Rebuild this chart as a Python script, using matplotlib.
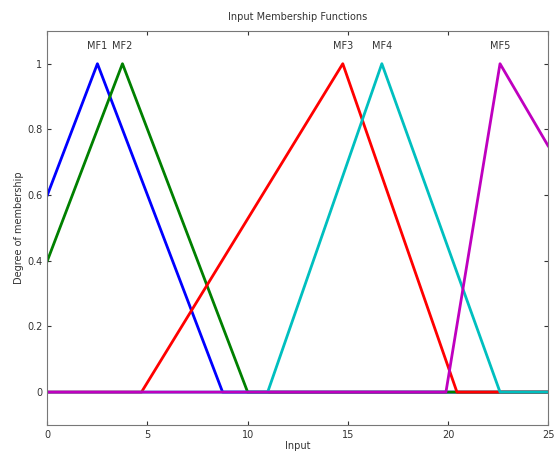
import numpy as np
import matplotlib
matplotlib.use("Agg")
import matplotlib.pyplot as plt

# triangular membership functions [left foot, peak, right foot]
mf_names = ["MF1", "MF2", "MF3", "MF4", "MF5"]
mf_params = [
    [-3.75, 2.5, 8.75],
    [-2.5, 3.75, 10.0],
    [4.7, 14.75, 20.45],
    [11.0, 16.7, 22.6],
    [19.9, 22.6, 32.2],
]
mf_colors = ["#0000ff", "#008000", "#ff0000", "#00bfbf", "#bf00bf"]
x_range = [0, 25]


def trimf(x, a, b, c):
    return np.maximum(np.minimum((x - a) / (b - a), (c - x) / (c - b)), 0)


def main():
    figure = plt.figure(figsize=(5.57, 4.54), dpi=100)
    axis = figure.add_axes([0.085, 0.064, 0.899, 0.868])
    x = np.linspace(x_range[0], x_range[1], 2001)
    for name, params, color in zip(mf_names, mf_params, mf_colors):
        y = trimf(x, *params)
        axis.plot(x, y, color=color, linewidth=2)
        axis.text(params[1], 1.04, name, ha="center", va="bottom", fontsize=7, color="#333333")
    axis.set_xlim(x_range)
    axis.set_ylim(-0.1, 1.1)
    axis.set_xticks([0, 5, 10, 15, 20, 25])
    axis.set_yticks([0, 0.2, 0.4, 0.6, 0.8, 1])
    axis.set_yticklabels(["0", "0.2", "0.4", "0.6", "0.8", "1"])
    axis.tick_params(direction="in", top=True, right=True, labelsize=7, colors="#333333", length=3)
    for spine in axis.spines.values():
        spine.set_color("#777777")
    axis.set_title("Input Membership Functions", fontsize=7, color="#333333", pad=8)
    axis.set_xlabel("Input", fontsize=7, color="#333333", labelpad=1)
    axis.set_ylabel("Degree of membership", fontsize=7, color="#333333", labelpad=2)
    figure.savefig("out.png", dpi=100)
    plt.close(figure)


if __name__ == "__main__":
    main()
